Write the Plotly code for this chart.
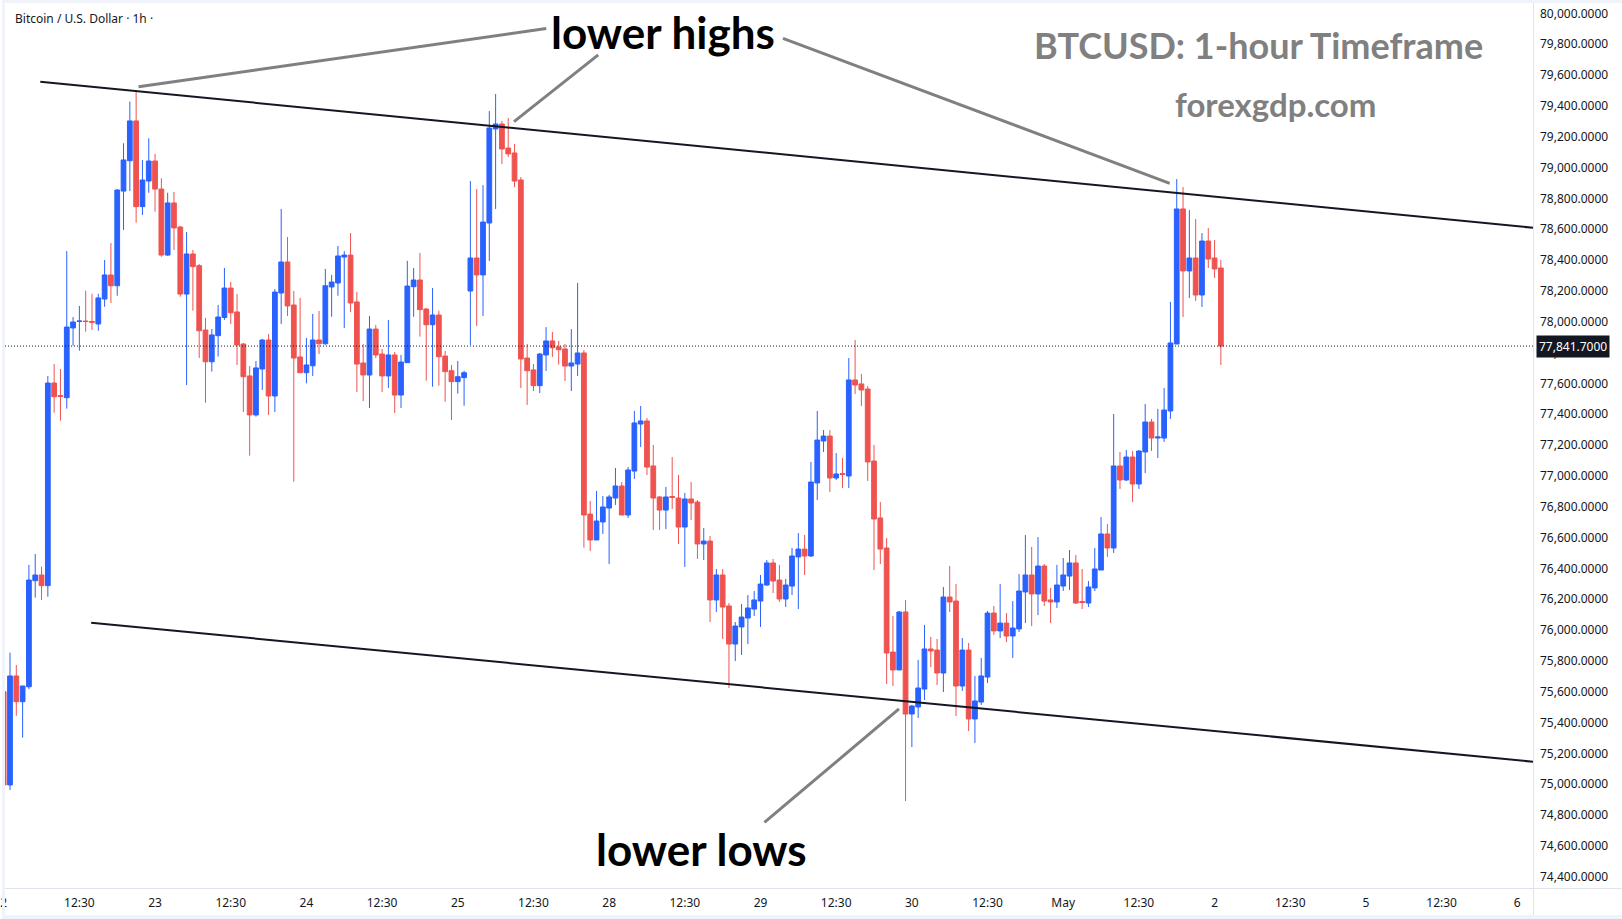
import plotly.graph_objects as go

# ---------------- data ----------------
opens = [75600, 74995, 75702, 75535, 75632, 76320, 76357, 76288, 77602, 77521,
         77507, 77959, 78001, 78004, 78001, 77985, 78147, 78303, 78233, 78847,
         79044, 79302, 78746, 78912, 79042, 78860, 78432, 78770, 78614, 78179,
         78439, 78363, 77946, 77740, 77909, 78027, 78218, 78063, 77855, 77648,
         77395, 77693, 77881, 77518, 78186, 78387, 78108, 77771, 77669, 77714,
         77881, 77857, 78225, 78251, 78419, 78432, 78128, 77732, 77654, 77952,
         77790, 77648, 77784, 77524, 77734, 78227, 78270, 78082, 77980, 78043,
         77777, 77682, 77611, 77637, 78199, 78413, 78303, 78640, 79250, 79282,
         79126, 79094, 78919, 77764, 77687, 77585, 77784, 77875, 77836, 77823,
         77712, 77725, 77797, 76752, 76584, 76701, 76791, 76856, 76934, 76746,
         77031, 77336, 77356, 77064, 76863, 76778, 76866, 76856, 76668, 76850,
         76830, 76558, 76577, 76195, 76357, 76156, 75909, 76020, 76078, 76136,
         76188, 76292, 76435, 76324, 76201, 76285, 76474, 76525, 76480, 76954,
         77226, 77258, 76986, 77015, 76999, 77622, 77596, 77563, 77096, 76727,
         76532, 75857, 75741, 76117, 75455, 75501, 75617, 75877, 75870, 75721,
         76214, 76188, 75637, 75870, 75423, 75533, 75695, 76110, 75994, 76045,
         75961, 76007, 76247, 76357, 76234, 76415, 76195, 76182, 76285, 76350,
         76435, 76185, 76175, 76273, 76389, 76623, 76532, 77064, 76973, 77122,
         76947, 77155, 77349, 77245, 77245, 77421, 77855, 78731, 78329, 78413,
         78173, 78523, 78413, 78348]

highs = [75611, 75853, 75773, 75637, 76422, 76493, 76411, 77648, 77725, 77693,
         78458, 78030, 78102, 78201, 78181, 78181, 78400, 78510, 78860, 79157,
         79427, 79503, 79049, 79189, 79088, 78930, 78836, 78841, 78620, 78582,
         78465, 78374, 78024, 77952, 78108, 78348, 78257, 78179, 77862, 77712,
         77745, 77888, 77920, 78212, 78731, 78549, 78199, 78154, 77894, 78050,
         78069, 78342, 78303, 78491, 78458, 78575, 78192, 77855, 78037, 77978,
         77823, 78011, 77803, 77784, 78394, 78348, 78445, 78089, 78218, 78071,
         77810, 77719, 77745, 77682, 78912, 78860, 78886, 79366, 79477, 79302,
         79321, 79152, 78938, 77855, 77725, 77797, 77965, 77933, 77875, 77855,
         77952, 78251, 77816, 76837, 76902, 76869, 76876, 77051, 76960, 77057,
         77421, 77453, 77375, 77200, 76869, 76928, 77122, 77005, 76889, 76960,
         76843, 76662, 76610, 76396, 76396, 76175, 76052, 76169, 76227, 76253,
         76357, 76454, 76461, 76422, 76331, 76532, 76629, 76616, 77090, 77421,
         77297, 77297, 77148, 77116, 77764, 77881, 77661, 77583, 77200, 76830,
         76597, 76091, 76123, 76195, 75514, 75806, 76033, 75955, 75942, 76279,
         76415, 76298, 75948, 75916, 75702, 75819, 76123, 76156, 76298, 76110,
         76188, 76363, 76616, 76539, 76603, 76428, 76273, 76422, 76467, 76519,
         76487, 76396, 76318, 76532, 76733, 76688, 77401, 77155, 77168, 77161,
         77168, 77466, 77369, 77434, 77570, 78128, 78925, 78873, 78724, 78666,
         78575, 78608, 78530, 78400]

lows = [74988, 74962, 75444, 75302, 75616, 76210, 76195, 76216, 77410, 77358,
        77436, 77844, 77812, 77935, 77946, 77941, 78097, 78121, 78168, 78595,
        78847, 78642, 78692, 78836, 78713, 78421, 78426, 78465, 78162, 77589,
        78071, 77764, 77474, 77676, 77773, 78011, 77985, 77719, 77414, 77131,
        77384, 77557, 77395, 77414, 77985, 78037, 76962, 77667, 77600, 77648,
        77790, 77849, 78032, 78168, 77959, 78063, 77544, 77485, 77440, 77764,
        77544, 77570, 77408, 77440, 77732, 78032, 77903, 77617, 77578, 77585,
        77481, 77362, 77533, 77455, 77849, 77972, 78037, 78394, 78731, 79023,
        79068, 78873, 77570, 77460, 77550, 77537, 77680, 77771, 77721, 77615,
        77550, 77648, 76534, 76512, 76584, 76623, 76428, 76811, 76746, 76727,
        76980, 77187, 77005, 76649, 76649, 76655, 76785, 76558, 76409, 76714,
        76461, 76454, 76052, 76117, 75942, 75624, 75799, 75838, 75909, 76091,
        76020, 76285, 76240, 76182, 76149, 76227, 76136, 76357, 76474, 76843,
        77155, 76895, 76973, 76921, 76921, 77531, 77453, 76967, 76389, 76428,
        75650, 75637, 75741, 74891, 75241, 75429, 75546, 75760, 75643, 75598,
        76117, 75442, 75605, 75345, 75267, 75514, 75656, 75968, 75948, 75922,
        75819, 75987, 76045, 76026, 76097, 76156, 76045, 76143, 76253, 76260,
        76169, 76136, 76149, 76253, 76389, 76474, 76500, 76915, 76967, 76830,
        76915, 77018, 77161, 77116, 77220, 77369, 77855, 78030, 78154, 78134,
        78095, 78348, 78283, 77719]

closes = [74995, 75702, 75535, 75637, 76324, 76357, 76288, 77602, 77513, 77515,
          77965, 77998, 78004, 78001, 77996, 78154, 78303, 78233, 78854, 79049,
          79302, 78746, 78919, 79042, 78860, 78432, 78770, 78608, 78179, 78439,
          78357, 77941, 77740, 77914, 78030, 78218, 78058, 77849, 77643, 77395,
          77700, 77881, 77518, 78192, 78387, 78102, 77764, 77669, 77719, 77881,
          77857, 78233, 78257, 78426, 78432, 78121, 77725, 77654, 77952, 77784,
          77648, 77784, 77524, 77738, 78231, 78270, 78078, 77980, 78043, 77773,
          77676, 77611, 77643, 77669, 78413, 78303, 78646, 79256, 79282, 79120,
          79088, 78912, 77758, 77682, 77585, 77790, 77875, 77831, 77818, 77712,
          77732, 77797, 76746, 76584, 76707, 76798, 76863, 76934, 76746, 77038,
          77343, 77356, 77057, 76856, 76778, 76863, 76860, 76668, 76850, 76824,
          76558, 76577, 76195, 76357, 76149, 75909, 76026, 76084, 76143, 76195,
          76298, 76435, 76318, 76201, 76292, 76480, 76525, 76480, 76960, 77232,
          77258, 76986, 77012, 77009, 77622, 77589, 77557, 77090, 76720, 76525,
          75851, 75741, 76117, 75455, 75507, 75624, 75877, 75864, 75721, 76214,
          76182, 75637, 75870, 75423, 75540, 75702, 76110, 75994, 76045, 75961,
          76013, 76253, 76357, 76234, 76415, 76188, 76182, 76292, 76357, 76435,
          76175, 76179, 76279, 76396, 76623, 76532, 77064, 76973, 77122, 76947,
          77161, 77349, 77245, 77252, 77427, 77862, 78731, 78329, 78413, 78173,
          78523, 78406, 78342, 77841.7]

candle_index = list(range(len(opens)))

time_tick_values = list(range(0, 241, 12))
time_tick_labels = ["2", "12:30", "23", "12:30", "24", "12:30", "25", "12:30",
                    "28", "12:30", "29", "12:30", "30", "12:30", "May", "12:30",
                    "2", "12:30", "5", "12:30", "6"]
price_tick_values = list(range(74400, 80001, 200))
last_price = 77841.7

# drawn channel lines (candle index, price)
upper_channel_x = [5.8, 250.0]
upper_channel_y = [79556, 78579]
lower_channel_x = [13.87, 250.0]
lower_channel_y = [76047.5, 75116]

# pointer lines from labels to swing points (candle index, price)
pointer_lines = [
    ([21.38, 86.03], [79524, 79901]),
    ([80.92, 94.27], [79297, 79730]),
    ([123.56, 184.89], [79838, 78897]),
    ([120.62, 141.96], [74752, 75488]),
]

# ---------------- layout geometry ----------------
W, H = 1622, 919
ML, MR, MT, MB = 0, 89, 0, 31
PW, PH = W - ML - MR, H - MT - MB

def px(x):
    return (x - ML) / PW

def py(y):
    return 1 - (y - MT) / PH

X_RANGE = [-0.269, 242.49]
Y_RANGE = [74326.7, 80086.3]

BLUE = "#2962ff"
RED = "#ef5350"
TXT = "#131722"
FRAME = "#f0f3fa"
AXLINE = "#e0e3eb"
FONT = "Noto Sans"

fig = go.Figure()
fig.add_trace(go.Candlestick(
    x=candle_index, open=opens, high=highs, low=lows, close=closes,
    increasing=dict(line=dict(color=BLUE, width=1), fillcolor=BLUE),
    decreasing=dict(line=dict(color=RED, width=1), fillcolor=RED),
    whiskerwidth=0, hoverinfo="skip", showlegend=False,
))

shapes = []
# channel lines
for xs, ys in [(upper_channel_x, upper_channel_y), (lower_channel_x, lower_channel_y)]:
    shapes.append(dict(type="line", xref="x", yref="y", x0=xs[0], x1=xs[1],
                       y0=ys[0], y1=ys[1], line=dict(color="#131722", width=2)))
# pointer lines
for xs, ys in pointer_lines:
    shapes.append(dict(type="line", xref="x", yref="y", x0=xs[0], x1=xs[1],
                       y0=ys[0], y1=ys[1], line=dict(color="#808080", width=3)))
# last price dotted line
shapes.append(dict(type="line", xref="paper", yref="y", x0=0, x1=1,
                   y0=last_price, y1=last_price,
                   line=dict(color=TXT, width=1, dash="1px,2px")))
# axis lines
shapes.append(dict(type="line", xref="paper", yref="paper", x0=px(1533.5), x1=px(1533.5),
                   y0=py(0), y1=py(915), line=dict(color=AXLINE, width=1)))
shapes.append(dict(type="line", xref="paper", yref="paper", x0=px(0), x1=px(W),
                   y0=py(888.5), y1=py(888.5), line=dict(color=AXLINE, width=1)))
# outer frame bands
shapes.append(dict(type="rect", xref="paper", yref="paper", x0=px(0), x1=px(W),
                   y0=py(0), y1=py(3), fillcolor=FRAME, line=dict(width=0), layer="above"))
shapes.append(dict(type="rect", xref="paper", yref="paper", x0=px(0), x1=px(3),
                   y0=py(0), y1=py(H), fillcolor=FRAME, line=dict(width=0), layer="above"))
shapes.append(dict(type="rect", xref="paper", yref="paper", x0=px(0), x1=px(W),
                   y0=py(915), y1=py(H), fillcolor=FRAME, line=dict(width=0), layer="above"))

annotations = [
    dict(text="Bitcoin / U.S. Dollar · 1h ·", xref="paper", yref="paper",
         x=px(11), y=py(18), xanchor="left", yanchor="middle", showarrow=False,
         font=dict(family=FONT, size=12, color=TXT)),
    dict(text="<b>lower highs</b>", xref="paper", yref="paper",
         x=px(662), y=py(32), xanchor="center", yanchor="middle", showarrow=False,
         font=dict(family="Lato", size=44, color="#000000")),
    dict(text="<b>lower lows</b>", xref="paper", yref="paper",
         x=px(700), y=py(849), xanchor="center", yanchor="middle", showarrow=False,
         font=dict(family="Lato", size=44, color="#000000")),
    dict(text="<b>BTCUSD: 1-hour Timeframe</b>", xref="paper", yref="paper",
         x=px(1258), y=py(45), xanchor="center", yanchor="middle", showarrow=False,
         font=dict(family="Lato", size=36, color="#808080")),
    dict(text="<b>forexgdp.com</b>", xref="paper", yref="paper",
         x=px(1275), y=py(104), xanchor="center", yanchor="middle", showarrow=False,
         font=dict(family="Lato", size=33, color="#808080")),
    dict(text="77,841.7000", xref="paper", yref="y",
         x=px(1536), y=last_price, xanchor="left", yanchor="middle", showarrow=False,
         bgcolor=TXT, borderpad=2, font=dict(family=FONT, size=12, color="#ffffff")),
]

fig.update_layout(
    width=W, height=H,
    margin=dict(l=ML, r=MR, t=MT, b=MB, pad=0),
    paper_bgcolor="#ffffff", plot_bgcolor="#ffffff",
    showlegend=False, hovermode=False,
    boxgap=0.25, boxgroupgap=0,
    shapes=shapes, annotations=annotations,
    xaxis=dict(range=X_RANGE, showgrid=False, zeroline=False, showline=False,
               tickmode="array", tickvals=time_tick_values, ticktext=time_tick_labels,
               ticks="", ticklabelstandoff=6, ticklabeloverflow="allow",
               tickfont=dict(family=FONT, size=12, color=TXT),
               rangeslider=dict(visible=False), fixedrange=True),
    yaxis=dict(range=Y_RANGE, side="right", showgrid=False, zeroline=False, showline=False,
               tickmode="array", tickvals=price_tick_values, tickformat=",.4f",
               ticks="", ticklabelstandoff=6,
               tickfont=dict(family=FONT, size=12, color=TXT), fixedrange=True),
)

fig.write_html("out.html")
